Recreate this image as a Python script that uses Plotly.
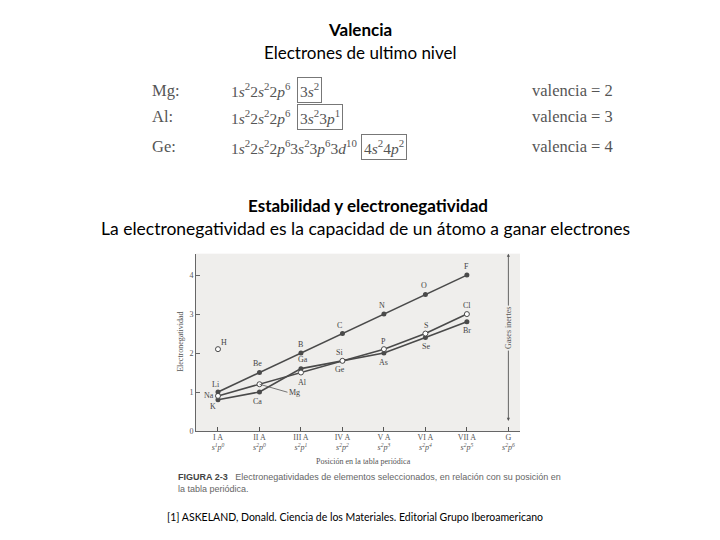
import plotly.graph_objects as go

# ---------------- data ----------------
groups = ["I A", "II A", "III A", "IV A", "V A", "VI A", "VII A", "G"]
configs = ["s<sup>1</sup>p<sup>0</sup>", "s<sup>2</sup>p<sup>0</sup>", "s<sup>2</sup>p<sup>1</sup>",
           "s<sup>2</sup>p<sup>2</sup>", "s<sup>2</sup>p<sup>3</sup>", "s<sup>2</sup>p<sup>4</sup>",
           "s<sup>2</sup>p<sup>5</sup>", "s<sup>2</sup>p<sup>6</sup>"]
group_pos = [1, 2, 3, 4, 5, 6, 7, 8]

period2_elems = ["Li", "Be", "B", "C", "N", "O", "F"]
period2_en = [1.0, 1.5, 2.0, 2.5, 3.0, 3.5, 4.0]

period3_elems = ["Na", "Mg", "Al", "Si", "P", "S", "Cl"]
period3_en = [0.9, 1.2, 1.5, 1.8, 2.1, 2.5, 3.0]

period4_elems = ["K", "Ca", "Ga", "Ge", "As", "Se", "Br"]
period4_en = [0.8, 1.0, 1.6, 1.8, 2.0, 2.4, 2.8]

hydrogen_en = [2.1]

y_ticks = [0, 1, 2, 3, 4]

valence_rows = ["Mg:", "Al:", "Ge:"]
valence_core = ["1<i>s</i><sup>2</sup>2<i>s</i><sup>2</sup>2<i>p</i><sup>6</sup>",
                "1<i>s</i><sup>2</sup>2<i>s</i><sup>2</sup>2<i>p</i><sup>6</sup>",
                "1<i>s</i><sup>2</sup>2<i>s</i><sup>2</sup>2<i>p</i><sup>6</sup>3<i>s</i><sup>2</sup>3<i>p</i><sup>6</sup>3<i>d</i><sup>10</sup>"]
valence_last = ["3<i>s</i><sup>2</sup>", "3<i>s</i><sup>2</sup>3<i>p</i><sup>1</sup>",
                "4<i>s</i><sup>2</sup>4<i>p</i><sup>2</sup>"]
valence_values = [2, 3, 4]

# ---------------- figure ----------------
# the page body has an 8px margin; draw in page pixel coordinates
OFF = 8
W, H = 712, 532
def px(x):
    return (x - OFF) / W
def py(y):
    return 1 - (y - OFF) / H

line_col = "#4a4a4a"
fig = go.Figure()

x4 = group_pos[:7]
fig.add_trace(go.Scatter(x=x4, y=period2_en, mode="lines+markers",
                         line=dict(color=line_col, width=1.6),
                         marker=dict(size=5, color=line_col)))
fig.add_trace(go.Scatter(x=x4, y=period4_en, mode="lines+markers",
                         line=dict(color=line_col, width=1.6),
                         marker=dict(size=5, color=line_col)))
fig.add_trace(go.Scatter(x=x4, y=period3_en, mode="lines+markers",
                         line=dict(color=line_col, width=1.6),
                         marker=dict(size=5, color="white", line=dict(color=line_col, width=1))))
fig.add_trace(go.Scatter(x=[group_pos[0]], y=hydrogen_en, mode="markers",
                         marker=dict(size=5, color="white", line=dict(color=line_col, width=1))))

# ---------- element labels (offsets are styling) ----------
serif = "Liberation Serif"
lab_font = dict(family=serif, size=8, color="#444")
offs2 = [(-2, 8), (-2, 9), (0, 9), (-3, 8), (-2, 9), (-1, 9), (0, 9)]
offs3 = [(-9, 0), None, (2, -10), (-3, 8), (0, 8), (1, 8), (0, 9)]
offs4 = [(-5, -7), (-2, -9), (2, 9), (-2, -9), (0, -9), (1, -9), (0, -9)]
for elems, vals, offs in [(period2_elems, period2_en, offs2),
                          (period3_elems, period3_en, offs3),
                          (period4_elems, period4_en, offs4)]:
    for i, (e, v) in enumerate(zip(elems, vals)):
        if offs[i] is None:
            fig.add_annotation(x=x4[i], y=v, text=e, showarrow=True, arrowhead=0,
                               arrowwidth=0.8, arrowcolor="#555", ax=28, ay=8,
                               font=lab_font, xanchor="left")
            continue
        dx, dy = offs[i]
        fig.add_annotation(x=x4[i], y=v, text=e, showarrow=False,
                           xshift=dx, yshift=dy, font=lab_font)
fig.add_annotation(x=group_pos[0], y=hydrogen_en[0], text="H", showarrow=False,
                   xshift=6, yshift=7, font=lab_font)

# Gases inertes double arrow
fig.add_annotation(x=group_pos[7], y=4.55, ax=group_pos[7], ay=0.22, axref="x", ayref="y",
                   showarrow=True, arrowhead=2, startarrowhead=2, arrowside="end+start",
                   arrowsize=0.7, arrowwidth=0.9, arrowcolor="#555", text="")
fig.add_annotation(x=group_pos[7], y=2.65, text="Gases inertes", textangle=-90,
                   showarrow=False, font=dict(family=serif, size=8, color="#555"),
                   bgcolor="#efeeec")

ticktext = [f"{g}<br><i>{c}</i>" for g, c in zip(groups, configs)]

fig.update_layout(
    width=W, height=H, margin=dict(l=0, r=0, t=0, b=0),
    paper_bgcolor="white", plot_bgcolor="#efeeec", showlegend=False,
    xaxis=dict(domain=[px(196), px(520)], range=[0.47, 8.28],
               tickvals=group_pos, ticktext=ticktext, ticks="inside", ticklen=4,
               tickcolor="#555", showgrid=False, zeroline=False, showline=True,
               linecolor="#666", linewidth=1, ticklabelstandoff=-2,
               tickfont=dict(family=serif, size=8, color="#555")),
    yaxis=dict(domain=[py(435), py(256)], range=[0, 4.55],
               tickvals=y_ticks, ticks="inside", ticklen=4, tickcolor="#666",
               showgrid=False, zeroline=False, showline=True, linecolor="#666",
               linewidth=1, tickfont=dict(family=serif, size=8, color="#555")),
)

def text(x, y, s, font, xanchor="center", **kw):
    fig.add_annotation(xref="paper", yref="paper", x=px(x), y=py(y), text=s,
                       xanchor=xanchor, yanchor="middle", showarrow=False, font=font, **kw)

# axis titles
text(181, 345, "Electronegatividad", dict(family=serif, size=8, color="#555"), textangle=-90)
text(363, 466, "Posición en la tabla periódica", dict(family=serif, size=8, color="#555"))

# caption
cap_font = dict(family="Liberation Sans", size=9, color="#666")
text(176, 481, "<b><span style='color:#444'>FIGURA 2-3</span></b>   Electronegatividades de elementos seleccionados, en relación con su posición en",
     cap_font, xanchor="left")
text(176, 494, "la tabla periódica.", cap_font, xanchor="left")

# slide texts
sans = "Lato"
text(360, 30, "<b>Valencia</b>", dict(family=sans, size=17, color="black"))
text(360, 53, "Electrones de ultimo nivel", dict(family=sans, size=17, color="black"))
text(368, 207, "<b>Estabilidad y electronegatividad</b>", dict(family=sans, size=17, color="black"))
text(366, 231, "La electronegatividad es la capacidad de un átomo a ganar electrones",
     dict(family=sans, size=17.5, color="black"))
text(355, 522, "[1] ASKELAND, Donald. Ciencia de los Materiales. Editorial Grupo Iberoamericano",
     dict(family=sans, size=10.5, color="black"))

# valence rows
row_y = [91, 118, 148]
box_x = [297, 297, 361]
vfont = dict(family=serif, size=16.5, color="#555")
cfont = dict(family=serif, size=15.5, color="#555")
for i in range(3):
    text(150, row_y[i], valence_rows[i], vfont, xanchor="left")
    text(229, row_y[i], valence_core[i], cfont, xanchor="left")
    text(box_x[i], row_y[i], valence_last[i], cfont, xanchor="left",
         bordercolor="#777", borderwidth=1, borderpad=2)
    text(615, row_y[i], f"valencia = {valence_values[i]}", vfont, xanchor="right")

fig.write_html("out.html")
